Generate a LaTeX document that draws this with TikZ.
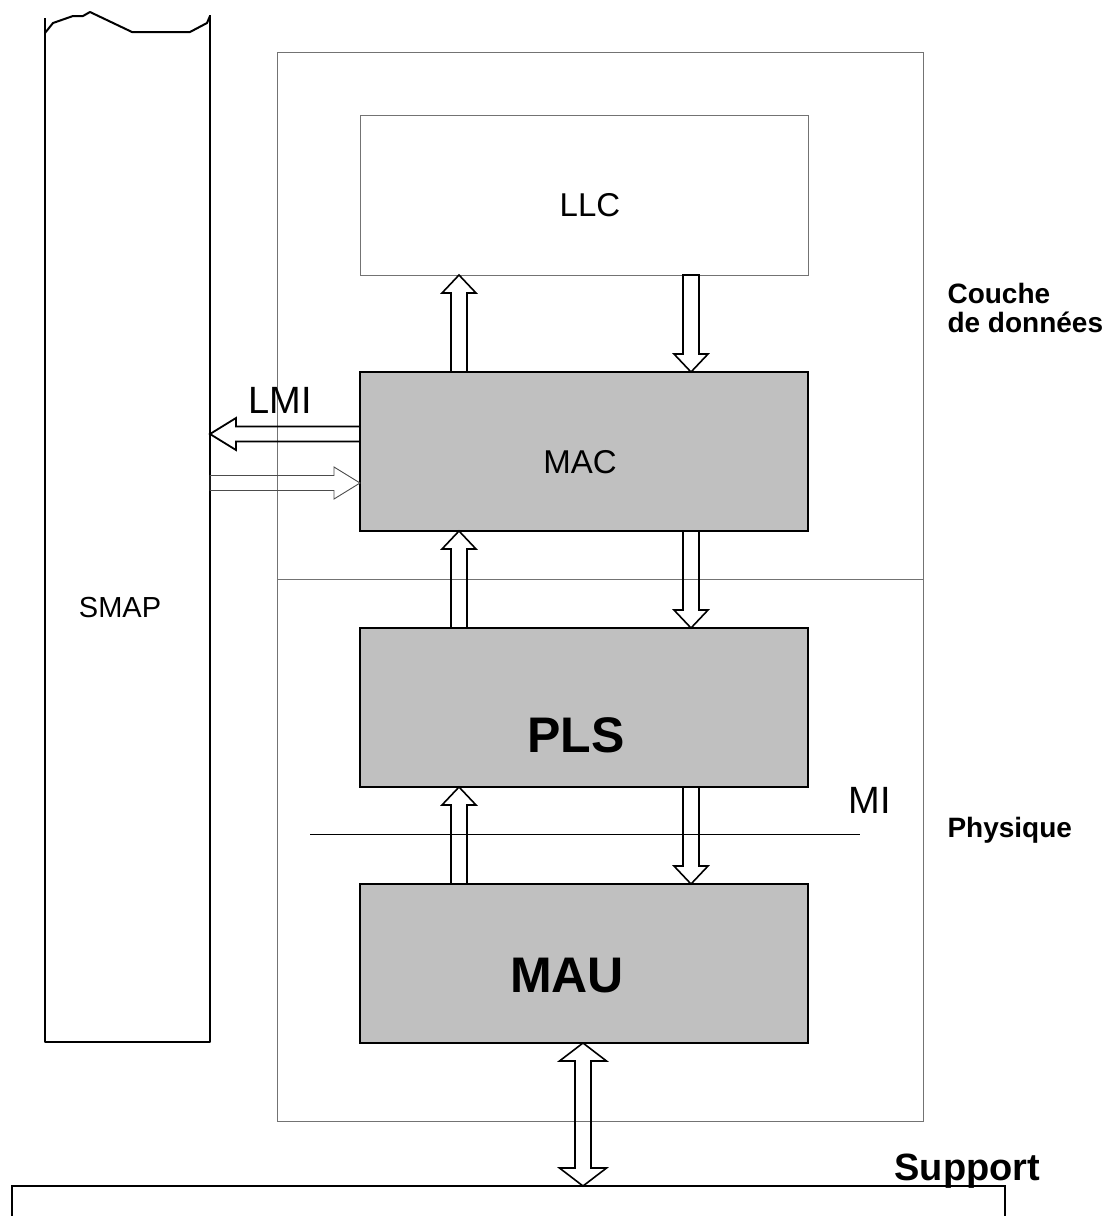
\documentclass[tikz,border=0pt]{standalone}
\usepackage{fontspec}
\setmainfont{Liberation Sans}
\usetikzlibrary{
  calc,
  positioning,
}
\definecolor{layergray}{RGB}{192, 192, 192}
\colorlet{framecolor}{black!55}

\begin{document}
\begin{tikzpicture}[x=1pt, y=-1pt,
    frame/.style={draw=framecolor, line width=0.8pt, outer sep=0pt},
    sublayer/.style={draw, fill=layergray, line width=2pt, outer sep=0pt,
                     minimum width=448pt, minimum height=159pt},
    boxtext/.style={font=\fontsize{33}{40}\selectfont},
    bigtext/.style={font=\fontsize{50}{60}\selectfont\bfseries},
    sidetext/.style={font=\fontsize{28}{29}\selectfont\bfseries, align=left},
    varrow/.style={draw, line width=1.6pt, line join=miter,
      to path={($(\tikztostart)!8pt!-90:(\tikztotarget)$)
        -- ($(\tikztotarget)!19.7pt!23.96:(\tikztostart)$)
        -- ($(\tikztotarget)!24.76pt!43.36:(\tikztostart)$)
        -- (\tikztotarget)
        -- ($(\tikztotarget)!24.76pt!-43.36:(\tikztostart)$)
        -- ($(\tikztotarget)!19.7pt!-23.96:(\tikztostart)$)
        -- ($(\tikztostart)!8pt!90:(\tikztotarget)$) -- cycle}},
    harrow/.style={draw, line width=1.8pt, line join=miter,
      to path={($(\tikztostart)!7.5pt!-90:(\tikztotarget)$)
        -- ($(\tikztotarget)!27.06pt!16.09:(\tikztostart)$)
        -- ($(\tikztotarget)!30.53pt!31.61:(\tikztostart)$)
        -- (\tikztotarget)
        -- ($(\tikztotarget)!30.53pt!-31.61:(\tikztostart)$)
        -- ($(\tikztotarget)!27.06pt!-16.09:(\tikztostart)$)
        -- ($(\tikztostart)!7.5pt!90:(\tikztotarget)$) -- cycle}},
    dblarrow/.style={draw, line width=1.6pt, line join=miter,
      to path={(\tikztostart)
        -- ($(\tikztostart)!29.6pt!-52.55:(\tikztotarget)$)
        -- ($(\tikztostart)!19.7pt!-23.96:(\tikztotarget)$)
        -- ($(\tikztotarget)!19.7pt!23.96:(\tikztostart)$)
        -- ($(\tikztotarget)!29.6pt!52.55:(\tikztostart)$)
        -- (\tikztotarget)
        -- ($(\tikztotarget)!29.6pt!-52.55:(\tikztostart)$)
        -- ($(\tikztotarget)!19.7pt!-23.96:(\tikztostart)$)
        -- ($(\tikztostart)!19.7pt!23.96:(\tikztotarget)$)
        -- ($(\tikztostart)!29.6pt!52.55:(\tikztotarget)$) -- cycle}}]
  \useasboundingbox (0,0) rectangle (1109,1216);

  \node [frame, anchor=north west, minimum width=646pt, minimum height=1069pt]
        (stack) at (277,52) {};
  \node [frame, minimum width=448pt, minimum height=160pt,
         label={[boxtext, xshift=6pt, yshift=-10pt]center:LLC}] (llc) at (584,195) {};
  \node [sublayer, below=97pt of llc,
         label={[boxtext, xshift=-4pt, yshift=-11pt]center:MAC}] (mac) {};
  \node [sublayer, below=97pt of mac,
         label={[bigtext, xshift=-8pt, yshift=-28pt]center:PLS}] (pls) {};
  \node [sublayer, below=97pt of pls,
         label={[bigtext, xshift=-17pt, yshift=-12pt]center:MAU}] (mau) {};
  \node [draw, line width=1.5pt, anchor=north west, outer sep=0pt,
         minimum width=993pt, minimum height=100pt] (medium) at (12,1186) {};

  \coordinate (split) at ($(mac.south)!0.5!(pls.north)$);
  \draw [framecolor, line width=0.8pt] (stack.west |- split) -- (stack.east |- split);

  \draw [line width=2pt, line join=round]
        (45,18) -- (45,1042) coordinate (smapsw) -- (210,1042) coordinate (smapse)
        -- (210,15);
  \draw [line width=2pt, line join=round]
        (45,33) -- (53,23) -- (73,16) -- (83,16) -- (90,12) -- (132,32)
        -- (190,32) -- (207,23) -- (210,16);
  \node [font=\fontsize{29}{35}\selectfont] (smap) at (120,608) {SMAP};

  \coordinate (upx) at (459,0);
  \coordinate (dnx) at (691,0);
  \coordinate (busx) at (583,0);
  \coordinate (lmiy) at (0,434);
  \coordinate (rety) at (0,483);

  \draw [varrow] (mac.north -| upx) to (llc.south -| upx);
  \draw [varrow] (llc.south -| dnx) to (mac.north -| dnx);
  \draw [varrow] (pls.north -| upx) to (mac.south -| upx);
  \draw [varrow] (mac.south -| dnx) to (pls.north -| dnx);
  \draw [varrow] (mau.north -| upx) to (pls.south -| upx);
  \draw [varrow] (pls.south -| dnx) to (mau.north -| dnx);
  \draw [dblarrow] (mau.south -| busx) to (medium.north -| busx);

  \draw [harrow] (mac.west |- lmiy) to (smapse |- lmiy);
  \draw [harrow, line width=0.9pt, draw=black!70] (smapse |- rety) to (mac.west |- rety);

  \draw [line width=0.9pt] (310,834) coordinate (mil) -- (860,834) coordinate (mir);

  \node [boxtext, font=\fontsize{38}{44}\selectfont, anchor=base west] (lmi) at (245,413) {LMI};
  \node [font=\fontsize{38}{44}\selectfont, anchor=base west] (mi) at (845,813) {MI};
  \node [sidetext, anchor=base west] (datalink) at (944,332) {Couche\\de données};
  \node [sidetext, anchor=base west] (phys) at (944,837) {Physique};
  \node [font=\fontsize{38}{44}\selectfont\bfseries, anchor=base west] (support)
        at (891,1180) {Support};
\end{tikzpicture}
\end{document}
